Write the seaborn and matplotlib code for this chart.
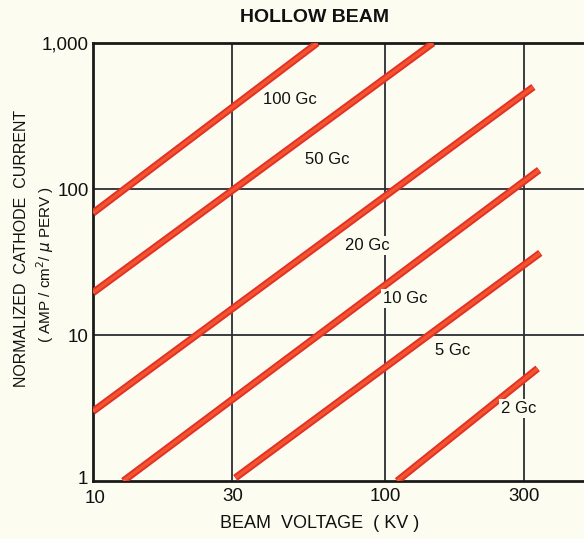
import numpy as np
import pandas as pd
import matplotlib
matplotlib.use("Agg")
import matplotlib.pyplot as plt
import matplotlib.transforms as mtransforms
import seaborn as sns

# Beam voltage (kV) and normalized cathode current at the ends of each line
labels = ["100 Gc", "50 Gc", "20 Gc", "10 Gc", "5 Gc", "2 Gc"]
volt_start = [10.0, 10.0, 10.0, 12.7, 30.7, 110.0]
volt_end = [58.6, 146.0, 322.0, 337.0, 340.0, 333.0]
curr_start = [68.5, 19.5, 3.0, 1.0, 1.05, 1.0]
curr_end = [1000.0, 1000.0, 500.0, 135.0, 36.5, 5.9]

x_ticks = [10, 30, 100, 300]
x_ticklabels = ["10", "30", "100", "300"]
y_ticks = [1, 10, 100, 1000]
y_ticklabels = ["1", "10", "100", "1,000"]

# text placement of the frequency labels (kV, current)
label_pos = [(47.3, 407), (63.4, 158), (86.9, 41.3), (117, 17.9), (170, 7.77), (286, 3.16)]

rows = []
for name, v0, v1, c0, c1 in zip(labels, volt_start, volt_end, curr_start, curr_end):
    rows.append({"freq": name, "kv": v0, "cur": c0})
    rows.append({"freq": name, "kv": v1, "cur": c1})
df = pd.DataFrame(rows)

sns.set_style("white")
plt.rcParams["font.family"] = ["Liberation Sans", "DejaVu Sans"]
bg = "#fcfcf1"

fig = plt.figure(figsize=(5.84, 5.39), dpi=100, facecolor=bg)
ax = fig.add_axes([93 / 584, 1 - 481 / 539, 1 - 93 / 584, (481 - 43) / 539])
ax.set_facecolor(bg)
ax.set_xscale("log")
ax.set_yscale("log")
ax.set_xlim(10, 480)
ax.set_ylim(1, 1000)

for name in labels:
    sub = df[df["freq"] == name]
    sns.lineplot(data=sub, x="kv", y="cur", ax=ax, color="#e3302a", linewidth=5.2,
                 solid_capstyle="butt", zorder=3, legend=False)
    sns.lineplot(data=sub, x="kv", y="cur", ax=ax, color="#f2552b", linewidth=2.4,
                 solid_capstyle="butt", zorder=4, legend=False)

for name, (lx, ly) in zip(labels, label_pos):
    ax.text(lx, ly, name, fontsize=12, ha="center", va="center", color="#111111",
            zorder=5, bbox=dict(facecolor=bg, edgecolor="none", pad=1.5))

ax.set_xticks(x_ticks)
ax.set_xticklabels(x_ticklabels)
ax.set_yticks(y_ticks)
ax.set_yticklabels(y_ticklabels)
ax.minorticks_off()
ax.tick_params(axis="both", length=0, labelsize=13.5, colors="#111111", pad=5)
ax.tick_params(axis="y", pad=3)

# lift the "1" label so it sits clear of the "10" below the corner
lbl_one = ax.get_yticklabels()[0]
lbl_one.set_transform(lbl_one.get_transform() +
                      mtransforms.ScaledTranslation(-1 / 100, 4 / 100, fig.dpi_scale_trans))
lbl_ten = ax.get_xticklabels()[0]
lbl_ten.set_transform(lbl_ten.get_transform() +
                      mtransforms.ScaledTranslation(2 / 100, -2 / 100, fig.dpi_scale_trans))

for v in [30, 100, 300]:
    ax.axvline(v, color="#2a2f33", linewidth=1.3, zorder=1)
for v in [10, 100]:
    ax.axhline(v, color="#2a2f33", linewidth=1.3, zorder=1)

for side in ["left", "bottom", "top"]:
    ax.spines[side].set_color("#1a1a1a")
    ax.spines[side].set_linewidth(2.0)
ax.spines["right"].set_visible(False)

ax.set_xlabel("")
ax.set_ylabel("")

fig.text(315 / 584, 1 - 17 / 539, "HOLLOW BEAM", ha="center", va="center",
         fontsize=14, fontweight="bold", color="#111111")
fig.text(320 / 584, 1 - 524 / 539, "BEAM  VOLTAGE  ( KV )", ha="center", va="center",
         fontsize=13, color="#111111")
fig.text(22 / 584, 1 - 248 / 539, "NORMALIZED  CATHODE  CURRENT", rotation=90,
         ha="center", va="center", fontsize=11.5, color="#111111")
fig.text(45 / 584, 1 - 264 / 539, "( AMP / cm$^2$/ $\\mu$ PERV )", rotation=90,
         ha="center", va="center", fontsize=11, color="#111111")

fig.savefig("out.png", dpi=100, facecolor=bg)
